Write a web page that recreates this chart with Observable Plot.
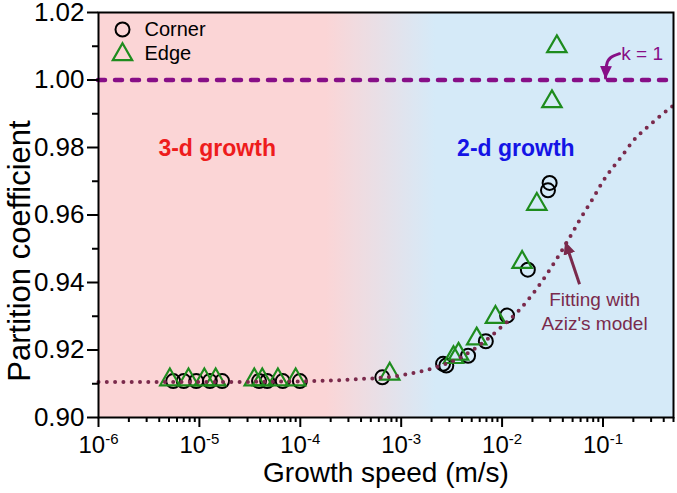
<!DOCTYPE html>
<html><head><meta charset="utf-8">
<script src="https://cdn.jsdelivr.net/npm/d3@7"></script>
<script src="https://cdn.jsdelivr.net/npm/@observablehq/plot@0.6"></script>
<style>
body{margin:0;background:#fff;}
svg{font-family:"Liberation Sans",Arial,sans-serif;}
</style>
</head><body><div id="chart"></div>
<script>
// ---- data ----
const seriesNames = ["Corner", "Edge"];
const cornerSpeed = [5.5e-6, 7.0e-6, 9.3e-6, 1.27e-5, 1.68e-5, 3.9e-5, 4.7e-5, 6.7e-5, 9.9e-5,
                     6.5e-4, 2.6e-3, 2.8e-3, 4.6e-3, 6.9e-3, 1.12e-2, 1.8e-2, 2.85e-2, 2.96e-2];
const cornerK =     [0.9108, 0.9108, 0.9108, 0.9108, 0.9108, 0.9108, 0.9108, 0.9108, 0.9108,
                     0.9119, 0.9159, 0.9154, 0.9183, 0.9226, 0.9302, 0.9438, 0.9673, 0.9695];
const edgeSpeed =   [5.1e-6, 7.8e-6, 1.12e-5, 1.45e-5, 3.5e-5, 4.2e-5, 6.0e-5, 9.0e-5,
                     7.7e-4, 3.3e-3, 3.7e-3, 5.6e-3, 8.6e-3, 1.58e-2, 2.21e-2, 3.12e-2, 3.49e-2];
const edgeK =       [0.9112, 0.9112, 0.9112, 0.9112, 0.9112, 0.9112, 0.9112, 0.9112,
                     0.9129, 0.9178, 0.9188, 0.9233, 0.9297, 0.946, 0.9632, 0.9936, 1.0099];
// fitted curve (Aziz's model)
const fitSpeed = [1e-6, 1e-5, 1e-4, 3e-4, 1e-3, 2e-3, 4e-3, 7e-3, 1e-2, 1.5e-2, 2e-2, 3e-2,
                  4.5e-2, 6e-2, 8e-2, 0.1, 0.15, 0.2, 0.3, 0.5];
const fitK =     [0.9105, 0.9105, 0.9107, 0.9112, 0.9125, 0.9145, 0.918, 0.923, 0.927, 0.932,
                  0.9365, 0.944, 0.9525, 0.959, 0.965, 0.970, 0.977, 0.982, 0.987, 0.9925];
const kOne = 1.0;
const xDomain = [1e-6, 0.5];
const yDomain = [0.90, 1.02];
const xTicks = [1e-6, 1e-5, 1e-4, 1e-3, 1e-2, 1e-1];
const xTickLabels = ["10^-6", "10^-5", "10^-4", "10^-3", "10^-2", "10^-1"];
const yTicks = [0.90, 0.92, 0.94, 0.96, 0.98, 1.00, 1.02];
const yTickLabels = ["0.90", "0.92", "0.94", "0.96", "0.98", "1.00", "1.02"];
const yMinorTicks = [0.91, 0.93, 0.95, 0.97, 0.99, 1.01];
const xMinorTicks = [];
for (let e = -6; e <= -1; e++) for (let m = 2; m <= 9; m++) { const v = m * Math.pow(10, e); if (v <= xDomain[1]) xMinorTicks.push(v); }
// background regions (speed where the colour blend starts / ends)
const bgStops = [{speed: 1.8e-4, color: "#fbd5d6"}, {speed: 2.2e-3, color: "#d5eaf8"}];
// annotations
const regionLabels = [
  {speed: 1.5e-5, k: 0.9797, text: "3-d growth", color: "#ee1c1c"},
  {speed: 1.37e-2, k: 0.9797, text: "2-d growth", color: "#1414e6"}
];
const kLabel = {speed: 0.152, k: 1.0078, text: "k = 1"};
const kArrowSpeed = [0.1459, 0.1188, 0.1084, 0.1060];
const kArrowK = [1.0078, 1.0066, 1.0044, 1.0006];
const fitLabel = {speed: 0.0826, k: 0.9318, lines: ["Fitting with", "Aziz's model"]};
const fitArrow = {speed1: 0.0586, k1: 0.9395, speed2: 0.0425, k2: 0.9519};

const corner = cornerSpeed.map((s, i) => ({s, k: cornerK[i]}));
const edge = edgeSpeed.map((s, i) => ({s, k: edgeK[i]}));
const fit = fitSpeed.map((s, i) => ({s, k: fitK[i]}));

const purple = "#870f87";
const maroon = "#7a2a4c";
const green = "#1e8c1e";

function filledHead(color) {
  const m = document.createElementNS("http://www.w3.org/2000/svg", "marker");
  m.setAttribute("viewBox", "-13 -6 13 12");
  m.setAttribute("markerWidth", 13);
  m.setAttribute("markerHeight", 12);
  m.setAttribute("markerUnits", "userSpaceOnUse");
  m.setAttribute("refX", -1);
  m.setAttribute("refY", 0);
  m.setAttribute("orient", "auto");
  const p = document.createElementNS("http://www.w3.org/2000/svg", "path");
  p.setAttribute("d", "M-13,-6L0,0L-13,6Z");
  p.setAttribute("fill", color);
  p.setAttribute("stroke", "none");
  m.appendChild(p);
  return m;
}

function build(useFn) {
  const head = useFn ? (c) => filledHead(c) : "arrow";
  return Plot.plot({
    width: 677, height: 493,
    marginLeft: 98, marginRight: 4, marginTop: 12, marginBottom: 76,
    style: {fontFamily: "'Liberation Sans', Arial, sans-serif", background: "#fff", color: "#000"},
    x: {type: "log", domain: xDomain},
    y: {domain: yDomain},
    marks: [
      Plot.rect([0], {x1: () => xDomain[0], x2: () => xDomain[1], y1: () => yDomain[0], y2: () => yDomain[1], fill: "url(#bgGrad)"}),
      Plot.ruleY([kOne], {stroke: purple, strokeWidth: 4.5, strokeDasharray: "7 10", strokeLinecap: "round"}),
      Plot.dot(corner, {x: "s", y: "k", r: 7, symbol: "circle", stroke: "#000", strokeWidth: 2, fill: "none"}),
      Plot.dot(edge, {x: "s", y: "k", r: 7.2, symbol: "triangle", stroke: green, strokeWidth: 2.2, fill: "none"}),
      Plot.line(fit, {x: "s", y: "k", curve: "monotone-x", stroke: maroon, strokeWidth: 4, strokeDasharray: "0 8.3", strokeLinecap: "round"}),
      Plot.text(regionLabels, {x: "speed", y: "k", text: "text", fill: "color", fontSize: 23, fontWeight: "bold"}),
      Plot.text([kLabel], {x: "speed", y: "k", text: "text", fill: purple, fontSize: 19, textAnchor: "start"}),
      Plot.line(kArrowSpeed.map((s, i) => ({s, k: kArrowK[i]})), {x: "s", y: "k", curve: "natural", stroke: purple, strokeWidth: 3, markerEnd: head}),
      Plot.text([fitLabel], {x: "speed", y: "k", text: d => d.lines.join("\n"), fill: maroon, fontSize: 19, lineHeight: 1.25}),
      Plot.link([fitArrow], {x1: "speed1", y1: "k1", x2: "speed2", y2: "k2", stroke: maroon, strokeWidth: 3, markerEnd: head}),
      // legend
      Plot.dot([seriesNames[0]], {frameAnchor: "top-left", dx: 24, dy: 17, r: 7, symbol: "circle", stroke: "#000", strokeWidth: 2, fill: "none"}),
      Plot.dot([seriesNames[1]], {frameAnchor: "top-left", dx: 24, dy: 42, r: 7.2, symbol: "triangle", stroke: green, strokeWidth: 2.2, fill: "none"}),
      Plot.text([seriesNames[0]], {text: d => d, frameAnchor: "top-left", dx: 46, dy: 17, textAnchor: "start", lineAnchor: "middle", fontSize: 20, fill: "#000"}),
      Plot.text([seriesNames[1]], {text: d => d, frameAnchor: "top-left", dx: 46, dy: 41, textAnchor: "start", lineAnchor: "middle", fontSize: 20, fill: "#000"}),
      // axes
      Plot.axisX({ticks: xMinorTicks, tickSize: 5, tickFormat: () => "", label: null, strokeWidth: 2}),
      Plot.axisX({ticks: xTicks, tickSize: 10, tickPadding: 8, tickFormat: d => xTickLabels[xTicks.indexOf(d)], fontSize: 24, label: null, strokeWidth: 2}),
      Plot.axisY({ticks: yMinorTicks, tickSize: 6, tickFormat: () => "", label: null, strokeWidth: 2}),
      Plot.axisY({ticks: yTicks, tickSize: 11, tickPadding: 3, tickFormat: d => yTickLabels[yTicks.indexOf(d)], fontSize: 26, label: null, strokeWidth: 2}),
      Plot.frame({stroke: "#000", strokeWidth: 2}),
      Plot.text(["Partition coefficient"], {text: d => d, frameAnchor: "left", dx: -78, dy: 36, rotate: -90, textAnchor: "middle", lineAnchor: "middle", fontSize: 31, fill: "#000"}),
      Plot.text(["Growth speed (m/s)"], {text: d => d, frameAnchor: "bottom", dy: 56, lineAnchor: "middle", fontSize: 28, fill: "#000"})
    ]
  });
}

let chart;
try { chart = build(true); } catch (e) { console.error(e); chart = build(false); }

// gradient for background, positioned through the x scale
const sx = chart.scale("x");
const x0 = sx.apply(xDomain[0]), x1 = sx.apply(xDomain[1]);
const ns = "http://www.w3.org/2000/svg";
const defs = document.createElementNS(ns, "defs");
const grad = document.createElementNS(ns, "linearGradient");
grad.setAttribute("id", "bgGrad");
grad.setAttribute("x1", "0"); grad.setAttribute("x2", "1"); grad.setAttribute("y1", "0"); grad.setAttribute("y2", "0");
for (const st of bgStops) {
  const s = document.createElementNS(ns, "stop");
  s.setAttribute("offset", ((sx.apply(st.speed) - x0) / (x1 - x0)).toFixed(4));
  s.setAttribute("stop-color", st.color);
  grad.appendChild(s);
}
defs.appendChild(grad);
chart.insertBefore(defs, chart.firstChild);

// drop empty minor-tick labels
chart.querySelectorAll("text").forEach(t => { if (t.textContent === "") t.remove(); });

// superscript exponents on x tick labels
chart.querySelectorAll("g[aria-label='x-axis tick label'] text").forEach(t => {
  const s = t.textContent;
  if (!s || s.indexOf("^") < 0) return;
  const [base, exp] = s.split("^");
  t.textContent = base;
  const ts = document.createElementNS(ns, "tspan");
  ts.setAttribute("dy", "-0.55em");
  ts.setAttribute("font-size", "15");
  ts.textContent = exp;
  t.appendChild(ts);
});

document.getElementById("chart").appendChild(chart);
</script>
</body></html>
